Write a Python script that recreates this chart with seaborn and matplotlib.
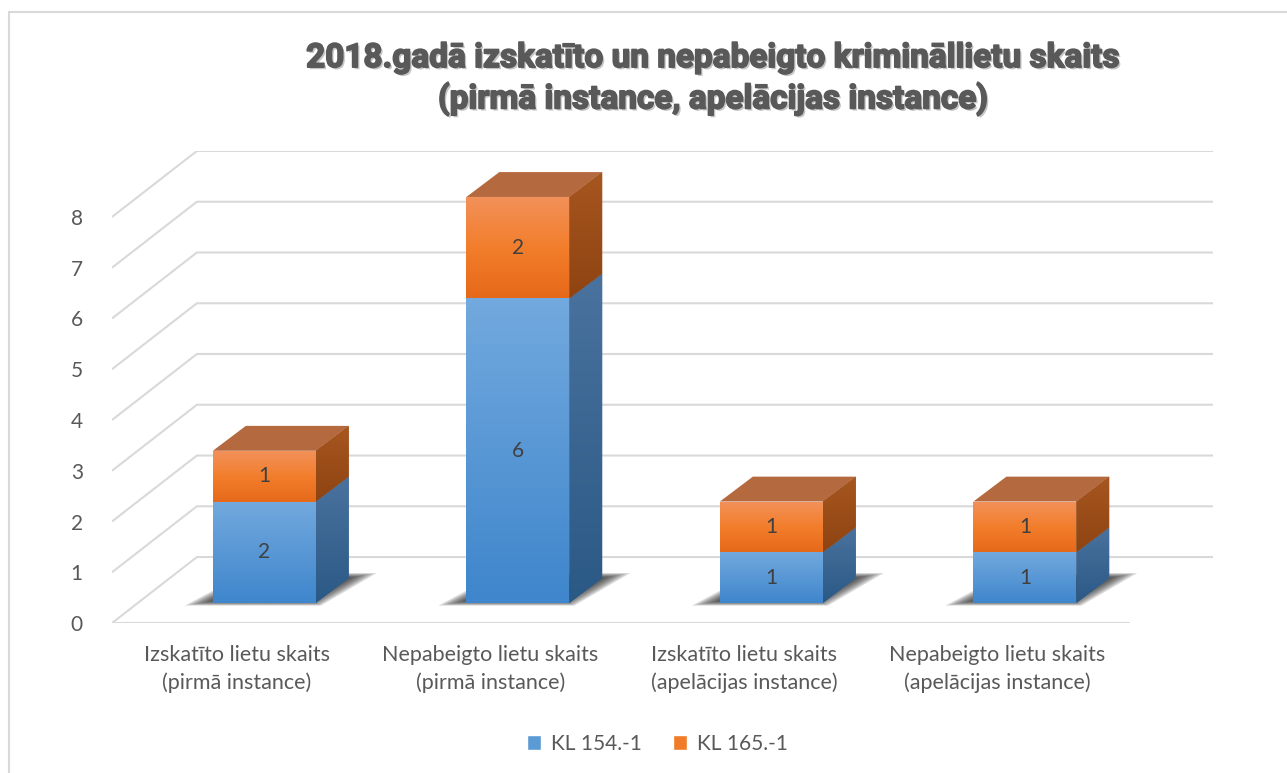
import matplotlib.pyplot as plt
import matplotlib.patheffects as pe
from matplotlib.patches import Polygon, Rectangle, Patch
from matplotlib.colors import LinearSegmentedColormap
import numpy as np
import pandas as pd
import seaborn as sns

# chart data
title = ('2018.gadā izskatīto un nepabeigto krimināllietu skaits\n'
         '(pirmā instance, apelācijas instance)')
categories = ['Izskatīto lietu skaits\n(pirmā instance)',
              'Nepabeigto lietu skaits\n(pirmā instance)',
              'Izskatīto lietu skaits\n(apelācijas instance)',
              'Nepabeigto lietu skaits\n(apelācijas instance)']
kl_154 = [2, 6, 1, 1]
kl_165 = [1, 2, 1, 1]
series_names = ['KL 154.-1', 'KL 165.-1']
y_ticks = [0, 1, 2, 3, 4, 5, 6, 7, 8]

# fake 3D geometry (data units)
FRONT_DX, FRONT_DY = 0.108, 0.394   # bars sit a bit back on the floor
DEPTH_DX, DEPTH_DY = 0.130, 0.49    # bar depth
WALL_DX, WALL_DY = 0.335, 1.30      # back wall offset
X_LEFT, X_RIGHT, FLOOR_RIGHT, Y_TOP = -0.493, 3.85, 3.52, 9.3
BAR_WIDTH = 0.406

TEXT = '#595959'
GRID = '#D9D9D9'

sns.set_theme(style='white')
plt.rcParams['font.family'] = ['Lato', 'DejaVu Sans']

fig = plt.figure(figsize=(12.87, 7.73), dpi=100)
ax = fig.add_axes([0.0870, 0.1940, 0.8555, 0.6107])

# chart border
fig.patches.append(Rectangle((9 / 1287, -0.1), 1.2, 1.1 - 12 / 773,
                             transform=fig.transFigure, fill=False,
                             edgecolor=GRID, linewidth=1.5))

# gridlines: front-left diagonal then back wall
for v in y_ticks:
    ax.plot([X_LEFT, X_LEFT + WALL_DX, X_RIGHT],
            [v, v + WALL_DY, v + WALL_DY],
            color=GRID, linewidth=1.5, zorder=0, solid_capstyle='butt')
ax.plot([X_LEFT, FLOOR_RIGHT], [0, 0], color=GRID, linewidth=1.5, zorder=0)

# front faces with seaborn (stacked)
df = pd.DataFrame({'category': categories,
                   'kl_154': kl_154,
                   'total': np.array(kl_154) + np.array(kl_165)})
sns.barplot(data=df, x='category', y='total', color='#F07C2A',
            width=BAR_WIDTH, saturation=1, ax=ax, zorder=3)
sns.barplot(data=df, x='category', y='kl_154', color='#5B9BD5',
            width=BAR_WIDTH, saturation=1, ax=ax, zorder=3)

n = len(categories)
orange_faces = ax.patches[:n]
blue_faces = ax.patches[n:2 * n]

blue_cmap = LinearSegmentedColormap.from_list('b', ['#3F86CC', '#72A9DE'])
orange_cmap = LinearSegmentedColormap.from_list('o', ['#E6691A', '#F27E2C',
                                                      '#F3915A'])
blue_side = LinearSegmentedColormap.from_list('bs', ['#2B5986', '#4A729E'])
orange_side = LinearSegmentedColormap.from_list('os', ['#8E4412', '#A7561F'])
grad = np.linspace(0, 1, 64).reshape(-1, 1)


def paint(x0, x1, y0, y1, cmap, clip, z):
    im = ax.imshow(grad, extent=[x0, x1, y0, y1], origin='lower',
                   cmap=cmap, aspect='auto', zorder=z, interpolation='bilinear')
    im.set_clip_path(clip)


for i in range(n):
    ob, bb = orange_faces[i], blue_faces[i]
    # orange segment only covers its own part
    ob.set_y(kl_154[i])
    ob.set_height(kl_165[i])
    for p in (ob, bb):
        p.set_x(p.get_x() + FRONT_DX)
        p.set_y(p.get_y() + FRONT_DY)
        p.set_edgecolor('none')
    x0 = bb.get_x()
    x1 = x0 + bb.get_width()
    yb = bb.get_y()
    ym = yb + kl_154[i]
    yt = ym + kl_165[i]

    # soft floor shadow, layered to fake a blur
    pts = np.array([(x0 - 0.11, yb - 0.05), (x1 + 0.02, yb - 0.05),
                    (x1 + DEPTH_DX + 0.11, yb + DEPTH_DY + 0.1),
                    (x0 + DEPTH_DX, yb + DEPTH_DY + 0.1)])
    c = pts.mean(axis=0)
    for s in np.linspace(1.0, 0.6, 10):
        ax.add_patch(Polygon(c + (pts - c) * s, closed=True,
                             facecolor='#1a1a1a', edgecolor='none',
                             alpha=0.17, zorder=1))

    # front gradients
    paint(x0, x1, yb, ym, blue_cmap, bb, 3.2)
    paint(x0, x1, ym, yt, orange_cmap, ob, 3.2)

    # side faces
    side_b = Polygon([(x1, yb), (x1 + DEPTH_DX, yb + DEPTH_DY),
                      (x1 + DEPTH_DX, ym + DEPTH_DY), (x1, ym)],
                     closed=True, facecolor='#3C6590', edgecolor='none', zorder=3)
    side_o = Polygon([(x1, ym), (x1 + DEPTH_DX, ym + DEPTH_DY),
                      (x1 + DEPTH_DX, yt + DEPTH_DY), (x1, yt)],
                     closed=True, facecolor='#9E501C', edgecolor='none', zorder=3)
    ax.add_patch(side_b)
    ax.add_patch(side_o)
    paint(x1, x1 + DEPTH_DX, yb, ym + DEPTH_DY, blue_side, side_b, 3.2)
    paint(x1, x1 + DEPTH_DX, ym, yt + DEPTH_DY, orange_side, side_o, 3.2)

    # top face
    top = Polygon([(x0, yt), (x0 + DEPTH_DX, yt + DEPTH_DY),
                   (x1 + DEPTH_DX, yt + DEPTH_DY), (x1, yt)],
                  closed=True, facecolor='#B5693F', edgecolor='none', zorder=3)
    ax.add_patch(top)

    # data labels
    xc = (x0 + x1) / 2
    ax.text(xc, (yb + ym) / 2, str(kl_154[i]), ha='center', va='center',
            fontsize=15, color='#404040', zorder=5)
    ax.text(xc, (ym + yt) / 2, str(kl_165[i]), ha='center', va='center',
            fontsize=15, color='#404040', zorder=5)

ax.set_xlim(X_LEFT, X_RIGHT)
ax.set_ylim(0, Y_TOP)
ax.set_yticks(y_ticks)
ax.set_yticklabels([str(v) for v in y_ticks])
ax.set_xticks(range(n))
ax.set_xticklabels(categories, linespacing=1.42)
ax.tick_params(axis='y', length=0, pad=21, labelcolor=TEXT, labelsize=15)
ax.tick_params(axis='x', length=0, pad=16, labelcolor=TEXT, labelsize=15.5)
ax.set_xlabel('')
ax.set_ylabel('')
for s in ax.spines.values():
    s.set_visible(False)
ax.set_facecolor('none')

fig.text(713 / 1287, 1 - 79 / 773, title, ha='center', va='center',
         fontsize=24, fontweight='bold', color=TEXT, linespacing=1.3,
         family=['Roboto', 'DejaVu Sans'],
         path_effects=[pe.withSimplePatchShadow(offset=(1.5, -1.5),
                                                shadow_rgbFace='#808080',
                                                alpha=0.45),
                       pe.withStroke(linewidth=1.2, foreground=TEXT)])

handles = [Patch(facecolor='#5B9BD5', label=series_names[0]),
           Patch(facecolor='#F07C2A', label=series_names[1])]
fig.legend(handles=handles, loc='center',
           bbox_to_anchor=(657 / 1287, 1 - 744 / 773), ncol=2,
           frameon=False, handlelength=0.7, handleheight=0.7,
           handletextpad=0.45, columnspacing=1.5, fontsize=15,
           labelcolor=TEXT)

fig.savefig('out.png', dpi=100)
